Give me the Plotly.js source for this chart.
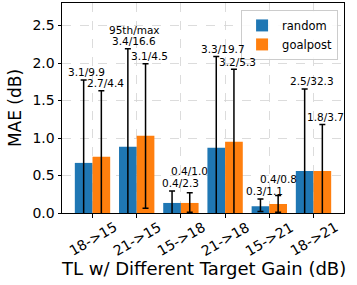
<!DOCTYPE html>
<html>
<head>
<meta charset="utf-8">
<script src="https://cdn.plot.ly/plotly-3.0.1.min.js"></script>
<style>html,body{margin:0;padding:0;background:#fff;}#chart{width:357px;height:285px;}</style>
</head>
<body>
<div id="chart"></div>
<script>
const categories = ["18->15", "21->15", "15->18", "21->18", "15->21", "18->21"];
const randomMAE = [0.668, 0.882, 0.134, 0.869, 0.09, 0.56];
const goalpostMAE = [0.749, 1.03, 0.134, 0.949, 0.12, 0.56];
const randomLow = [-0.3, -0.3, -0.1, -0.3, 0.02, -0.3];
const randomHigh = [1.774, 2.19, 0.294, 2.086, 0.187, 1.654];
const goalpostLow = [-0.3, 0.063, 0.01, -0.3, 0.01, -0.3];
const goalpostHigh = [1.63, 1.99, 0.27, 1.917, 0.232, 1.18];
const randomLabels = ["3.1/9.9", "3.4/16.6", "0.4/2.3", "3.3/19.7", "0.3/1.1", "2.5/32.3"];
const goalpostLabels = ["2.7/4.4", "3.1/4.5", "0.4/1.0", "3.2/5.3", "0.4/0.8", "1.8/3.7"];
const headerLabel = "95th/max";
const xTitle = "TL w/ Different Target Gain (dB)";
const yTitle = "MAE (dB)";

const font = "DejaVu Sans, sans-serif";

function errs(vals, lo, hi) {
  return {
    type: 'data', symmetric: false,
    array: vals.map((v, i) => hi[i] - v),
    arrayminus: vals.map((v, i) => v - lo[i]),
    color: '#000', thickness: 1.5, width: 3
  };
}

const xIdx = categories.map((c, i) => i);

const traces = [
  {type: 'bar', name: 'random', x: xIdx, y: randomMAE, marker: {color: '#1f77b4'},
   error_y: errs(randomMAE, randomLow, randomHigh)},
  {type: 'bar', name: 'goalpost', x: xIdx, y: goalpostMAE, marker: {color: '#ff7f0e'},
   error_y: errs(goalpostMAE, goalpostLow, goalpostHigh)}
];

const annFont = {family: font, size: 10.5, color: '#000'};
const annotations = [];
const rOff = [0.075, 0.15, 0.19, 0.16, 0.09, 0.16];
const gOff = [0.09, 0.09, 0.0, 0.09, 0.0, 0.08];
const gBump = [0, 0, 0.19, 0, 0.12, 0];
randomLabels.forEach((t, i) => {
  annotations.push({x: i - 0.2 + rOff[i], y: randomHigh[i] + 0.105, xref: 'x', yref: 'y', text: t,
    showarrow: false, font: annFont, xanchor: 'center', yanchor: 'middle'});
});
goalpostLabels.forEach((t, i) => {
  annotations.push({x: i + 0.2 + gOff[i], y: goalpostHigh[i] + 0.1 + gBump[i], xref: 'x', yref: 'y', text: t,
    showarrow: false, font: annFont, xanchor: 'center', yanchor: 'middle'});
});
annotations.push({x: 1 - 0.2 + 0.146, y: randomHigh[1] + 0.25, xref: 'x', yref: 'y', text: headerLabel,
  showarrow: false, font: annFont, xanchor: 'center', yanchor: 'middle'});

// centered rotated category labels (matplotlib style)
categories.forEach((c, i) => {
  annotations.push({x: i, y: -0.124, xref: 'x', yref: 'paper', text: c, textangle: -30,
    showarrow: false, font: {family: font, size: 14, color: '#000'}, xanchor: 'center', yanchor: 'middle'});
});
annotations.push({x: 0.5, y: -0.262, xref: 'paper', yref: 'paper', text: xTitle,
  showarrow: false, font: {family: font, size: 18, color: '#000'}, xanchor: 'center', yanchor: 'middle'});

const axisCommon = {
  showline: true, mirror: true, linecolor: '#000', linewidth: 1,
  ticks: 'outside', ticklen: 3.5, tickwidth: 1, tickcolor: '#000',
  showgrid: true, gridcolor: '#d3d3d3', griddash: 'dash', gridwidth: 0.8,
  zeroline: false,
  tickfont: {family: font, size: 14, color: '#000'}
};

const layout = {
  width: 357, height: 285,
  margin: {l: 62, r: 13, t: 3, b: 72},
  paper_bgcolor: '#fff', plot_bgcolor: '#fff',
  barmode: 'group', bargap: 0.2, bargroupgap: 0,
  showlegend: true,
  legend: {x: 0.979, y: 0.967, xanchor: 'right', yanchor: 'top',
    bgcolor: 'rgba(255,255,255,0.85)', bordercolor: '#cccccc', borderwidth: 1,
    font: {family: font, size: 11.5, color: '#000'}, tracegroupgap: 2},
  xaxis: Object.assign({}, axisCommon, {
    range: [-0.69, 5.69], tickmode: 'array', tickvals: xIdx, ticktext: categories,
    showticklabels: false
  }),
  yaxis: Object.assign({}, axisCommon, {
    range: [0, 2.8], dtick: 0.5, tickformat: '.1f',
    title: {text: yTitle, font: {family: font, size: 17, color: '#000'}, standoff: 6}
  }),
  annotations: annotations
};

Plotly.newPlot('chart', traces, layout, {displayModeBar: false, staticPlot: true});
</script>
</body>
</html>
